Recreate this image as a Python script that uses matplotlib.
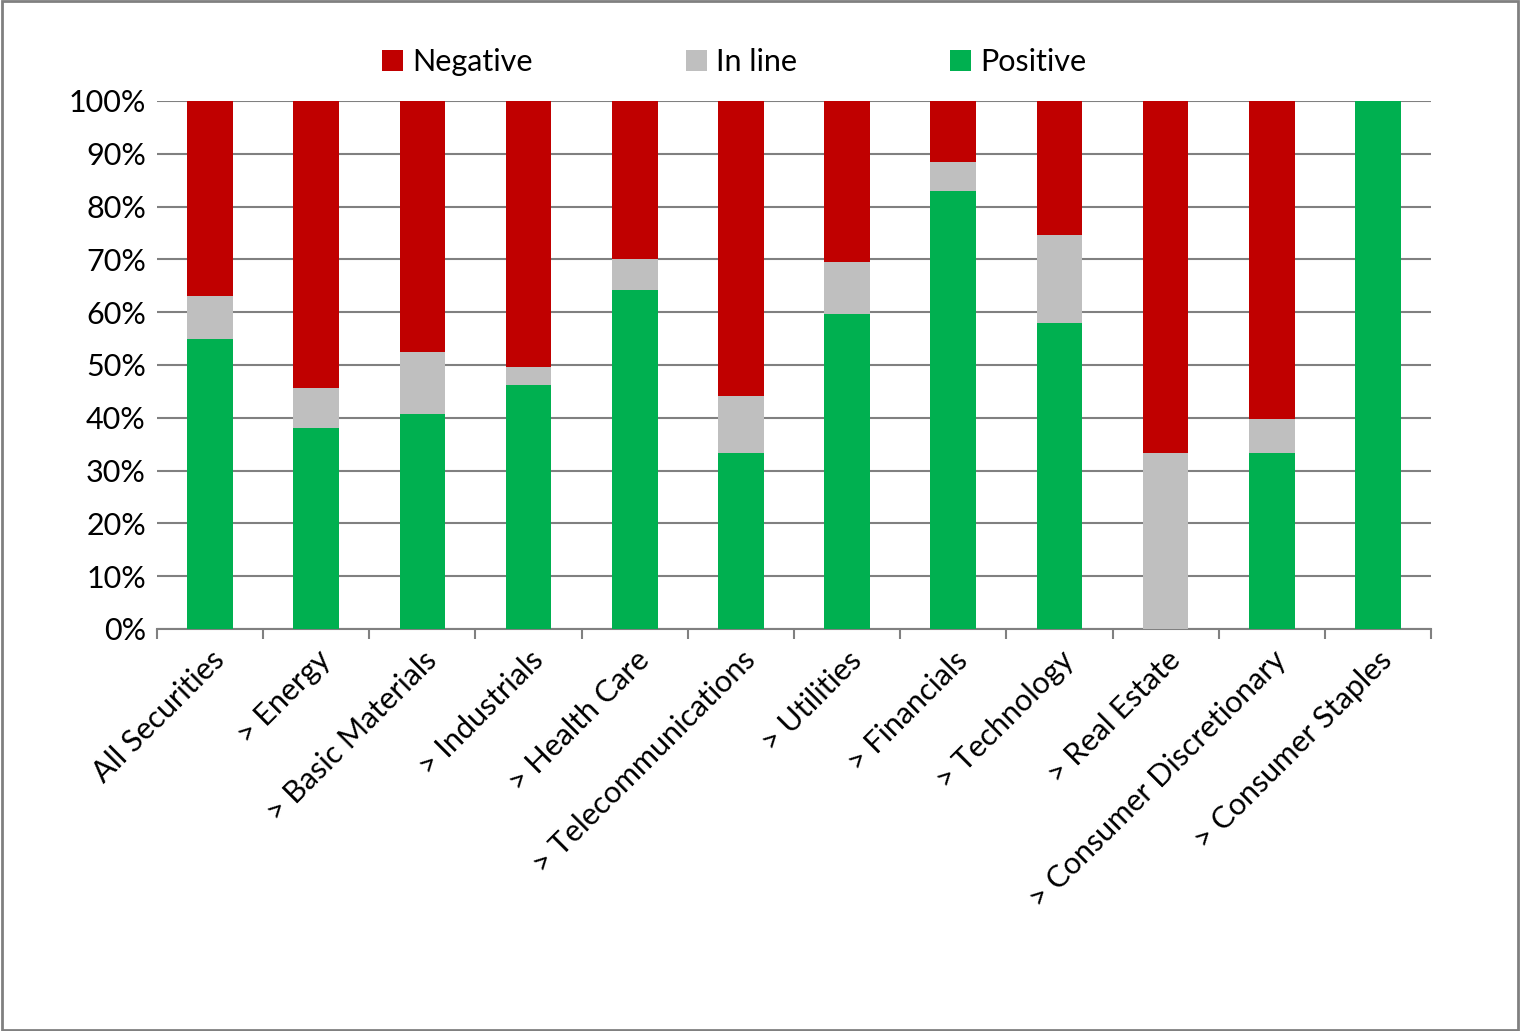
import matplotlib
matplotlib.use("Agg")
import matplotlib.pyplot as plt
import numpy as np

categories = ["All Securities", "> Energy", "> Basic Materials", "> Industrials", "> Health Care",
              "> Telecommunications", "> Utilities", "> Financials", "> Technology", "> Real Estate",
              "> Consumer Discretionary", "> Consumer Staples"]
positive = [55.0, 38.1, 40.7, 46.2, 64.2, 33.3, 59.7, 83.0, 58.0, 0.0, 33.3, 100.0]
inline_ = [8.0, 7.5, 11.8, 3.4, 5.9, 10.8, 9.8, 5.4, 16.6, 33.3, 6.4, 0.0]
negative = [100 - p - i for p, i in zip(positive, inline_)]

plt.rcParams['font.family'] = ['Lato', 'DejaVu Sans']
W, H = 1520, 1031
fig = plt.figure(figsize=(W/100, H/100), dpi=100)
ax = fig.add_axes([157/W, 1-629/H, (1431-157)/W, (629-101)/H])
x = np.arange(len(categories))
w = 0.43
ax.bar(x, positive, w, color="#00b050", label="Positive", zorder=3)
ax.bar(x, inline_, w, bottom=positive, color="#bfbfbf", label="In line", zorder=3)
ax.bar(x, negative, w, bottom=np.array(positive)+np.array(inline_), color="#c00000", label="Negative", zorder=3)
ax.set_xlim(-0.5, len(categories)-0.5)
ax.set_ylim(0, 100)
ax.set_yticks(range(0, 101, 10))
ax.set_yticklabels([f"{v}%" for v in range(0, 101, 10)], fontsize=22)
ax.yaxis.grid(True, color="#808080", linewidth=1.5, zorder=0)
ax.set_xticks(np.arange(-0.5, len(categories), 1), minor=False)
ax.set_xticklabels([])
ax.set_xticks(x, minor=True)
ax.set_xticklabels(categories, minor=True, rotation=45, ha="right", rotation_mode="anchor", fontsize=22)
ax.tick_params(axis='x', which='minor', length=0, pad=12)
ax.tick_params(axis='x', which='major', length=7, color="#808080", width=1.5)
ax.tick_params(axis='y', length=0, pad=8)
for s in ["top", "right", "left"]:
    ax.spines[s].set_visible(False)
ax.spines["bottom"].set_color("#808080")
ax.spines["bottom"].set_linewidth(1.5)
h, l = ax.get_legend_handles_labels()
fig.legend(h[::-1], l[::-1], loc="center", bbox_to_anchor=(0.483, 1-62/H), ncol=3, frameon=False,
           fontsize=22, handlelength=0.7, handleheight=0.7, handletextpad=0.3, columnspacing=5)
fig.patches.append(plt.Rectangle((0.001, 0.001), 0.998, 0.998, transform=fig.transFigure,
                                 fill=False, edgecolor="#808080", linewidth=2))
fig.savefig("out.png", dpi=100)
